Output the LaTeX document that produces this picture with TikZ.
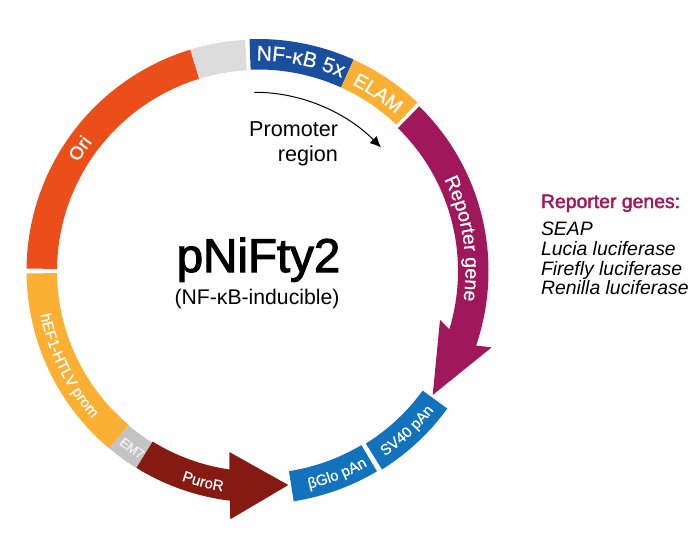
\documentclass[tikz,border=0pt]{standalone}
\usepackage{fontspec}
\usetikzlibrary{decorations.text,arrows.meta}
\setmainfont{Liberation Sans}
\newfontfamily\medfont[FakeBold=2.2]{Liberation Sans}
\newfontfamily\semifont[FakeBold=0.6]{Liberation Sans}
\definecolor{oriC}{HTML}{EC4E1A}
\definecolor{grayC}{HTML}{DCDCDC}
\definecolor{nfC}{HTML}{1A4FA0}
\definecolor{amberC}{HTML}{FBB034}
\definecolor{repC}{HTML}{A0175C}
\definecolor{emC}{HTML}{C4C4C4}
\definecolor{puroC}{HTML}{851A12}
\definecolor{panC}{HTML}{1272BC}
\newcommand{\fsz}[1]{\fontsize{#1}{#1}\selectfont}
% segment: start angle, end angle, outer, inner, colour
\newcommand{\ringseg}[5]{\fill[#5] (#1:#2pt) arc[start angle=#1,end angle=#3,radius=#2pt] -- (#3:#4pt) arc[start angle=#3,end angle=#1,radius=#4pt] -- cycle;}
% curved label: start angle, end angle, radius, size, text
\newcommand{\arclabel}[6][white]{\path[postaction={decorate},decoration={text along path,text align=center,text={|\semifont\fsz{#5}\color{#1}|#6}}] (#2:#4pt) arc[start angle=#2,end angle=#3,radius=#4pt];}
\tikzset{
  plain/.style={inner sep=0pt,outer sep=0pt,anchor=base},
  leftt/.style={inner sep=0pt,outer sep=0pt,anchor=base west},
  rightt/.style={inner sep=0pt,outer sep=0pt,anchor=base east},
}
\begin{document}
\begin{tikzpicture}[x=1pt,y=1pt]
\useasboundingbox (-258,-262) rectangle (442,271);
% ring segments
\ringseg{179.4}{231.5}{107}{201}{oriC}
\ringseg{107}{231.5}{93.2}{201}{grayC}
\ringseg{92.1}{232}{65.65}{201.5}{nfC}
\ringseg{65.65}{232}{46.6}{201.5}{amberC}
\ringseg{180.6}{231.5}{230}{201}{amberC}
\ringseg{230}{231.5}{238.3}{201.5}{emC}
\ringseg{-81.2}{233}{-59.3}{202.5}{panC}
\ringseg{-58}{234}{-36}{203.5}{panC}
% reporter arrow
\fill[repC] (45.6:230.5pt) arc[start angle=45.6,end angle=-18.9,radius=230.5pt]
  -- (233.7pt,-76.3pt) -- (174.7pt,-124pt) -- (182pt,-49pt) -- (-16.9:200pt)
  arc[start angle=-16.9,end angle=45.6,radius=200pt] -- cycle;
% PuroR arrow
\fill[puroC] (238.3:231.4pt) arc[start angle=238.3,end angle=263,radius=231.4pt]
  -- (-27.7pt,-248.3pt) -- (30.3pt,-214pt) -- (-28.7pt,-181pt) -- (261.8:200.5pt)
  arc[start angle=261.8,end angle=238.3,radius=200.5pt] -- cycle;
% curved labels
\arclabel{98}{59}{210.5}{21}{NF-κB 5x}
\arclabel{72}{40}{209}{19.5}{ELAM}
\arclabel{40}{-22}{207.5}{19.5}{Reporter gene}
\arclabel{165.5}{125.5}{210}{18.5}{Ori}
\arclabel{186}{227}{222}{15}{hEF1-HTLV prom}
\arclabel[white!90!gray]{224.6}{244.6}{222}{13}{EM7}
\arclabel{245.4}{265.4}{223}{15}{PuroR}
\arclabel{-85}{-52.4}{223.5}{15}{βGlo pAn}
\arclabel{-65}{-29}{224.5}{15}{SV40 pAn}
% centre
\node[plain] (title) at (0.5,-1) {\medfont\fsz{47.5}pNiFty2};
\node[plain] (sub) at (-1,-33) {\fsz{21.2}(NF-κB-inducible)};
% promoter region
\node[rightt] (prom) at (80,135) {\fsz{21.6}Promoter};
\node[rightt] (regn) at (80,110) {\fsz{21.6}region};
\coordinate (pa) at (-3.7,178.7);
\coordinate (pb) at (123,123.5);
\draw[line width=1pt,-{Latex[length=11pt,width=10pt]}] (pa) .. controls (45,179) and (90,157) .. (pb);
% side list
\node[leftt,text=repC] (hd) at (283,63) {\medfont\fsz{19.4}Reporter genes:};
\node[leftt] (g1) at (283,36) {\itshape\fsz{19.4}SEAP};
\node[leftt] (g2) at (283,16) {\itshape\fsz{19.4}Lucia luciferase};
\node[leftt] (g3) at (283,-4) {\itshape\fsz{19.4}Firefly luciferase};
\node[leftt] (g4) at (283,-23.5) {\itshape\fsz{19.4}Renilla luciferase};
\end{tikzpicture}
\end{document}
